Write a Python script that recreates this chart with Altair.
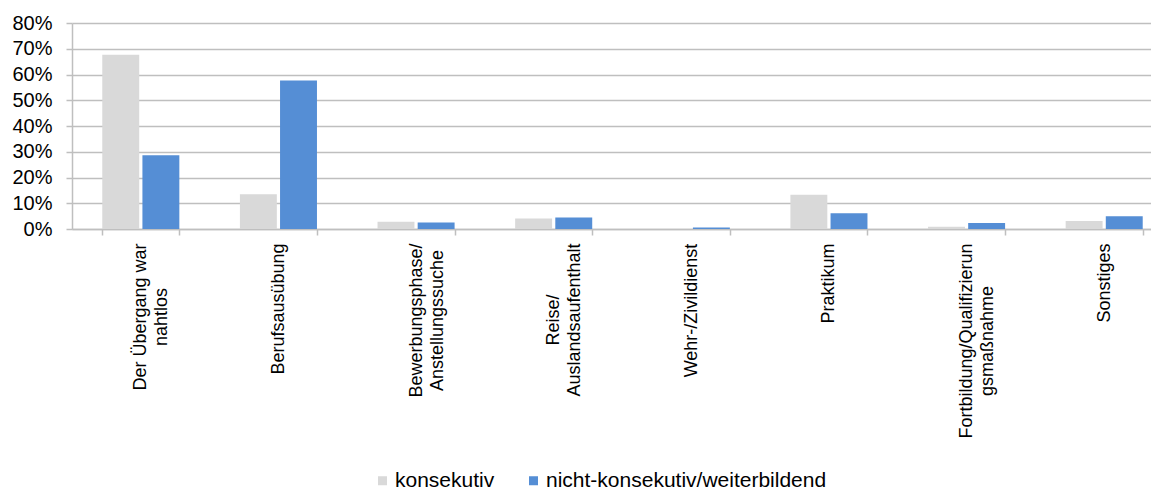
import json
import altair as alt
import pandas as pd

categories = [
    "Der Übergang war\nnahtlos",
    "Berufsausübung",
    "Bewerbungsphase/\nAnstellungssuche",
    "Reise/\nAuslandsaufenthalt",
    "Wehr-/Zivildienst",
    "Praktikum",
    "Fortbildung/Qualifizierun\ngsmaßnahme",
    "Sonstiges",
]
series_names = ["konsekutiv", "nicht-konsekutiv/weiterbildend"]
konsekutiv = [0.677, 0.135, 0.028, 0.041, 0.0, 0.133, 0.009, 0.031]
nicht_konsekutiv = [0.286, 0.577, 0.025, 0.045, 0.006, 0.061, 0.023, 0.050]
colors = ["#d9d9d9", "#558ed5"]
y_ticks = [0, 0.1, 0.2, 0.3, 0.4, 0.5, 0.6, 0.7, 0.8]

rows = []
for c, a, b in zip(categories, konsekutiv, nicht_konsekutiv):
    rows.append({"Kategorie": c, "Gruppe": series_names[0], "Anteil": a})
    rows.append({"Kategorie": c, "Gruppe": series_names[1], "Anteil": b})
df = pd.DataFrame(rows)

FONT = "Liberation Sans"
GRID = "#bfbfbf"
XLAB_SIZE = 18

# Approximate Arial/Liberation Sans advance widths (em), used so that the
# rotated multi-line labels are centred line by line and start just below
# the axis, as in the original.
W = {" ": .278, "/": .278, "-": .333, "A": .667, "B": .667, "D": .722,
     "F": .611, "P": .667, "Q": .778, "R": .722, "S": .667, "W": .944,
     "Z": .611, "Ü": .722, "a": .556, "b": .556, "c": .5, "d": .556,
     "e": .556, "f": .278, "g": .556, "h": .556, "i": .222, "k": .5,
     "l": .222, "m": .833, "n": .556, "o": .556, "p": .556, "r": .333,
     "s": .5, "t": .278, "u": .556, "v": .5, "w": .722, "z": .5,
     "ß": .611, "ü": .556}


def half_len(label):
    return max(sum(W.get(ch, .556) for ch in ln) for ln in label.split("\n")) * XLAB_SIZE / 2


pad_conditions = [
    {"test": "datum.value === " + json.dumps(c), "value": round(8 + half_len(c), 1)}
    for c in categories
]

chart = (
    alt.Chart(df)
    .mark_bar()
    .encode(
        x=alt.X(
            "Kategorie:N",
            sort=categories,
            scale=alt.Scale(paddingInner=0.44, paddingOuter=0.22, range=[0, 1101]),
            axis=alt.Axis(
                title=None,
                labelAngle=-90,
                labelAlign="center",
                labelBaseline="middle",
                labelFontSize=XLAB_SIZE,
                labelLineHeight=21,
                labelFont=FONT,
                labelColor="#000000",
                labelExpr="datum.value ? split(datum.value, '\\n') : ''",
                labelLimit=0,
                labelPadding={"condition": pad_conditions, "value": 8},
                tickBand="extent",
                tickSize=6,
                tickColor=GRID,
                tickWidth=1.5,
                domainColor=GRID,
                domainWidth=1.5,
                grid=False,
            ),
        ),
        xOffset=alt.XOffset(
            "Gruppe:N",
            sort=series_names,
            scale=alt.Scale(paddingInner=0.08, paddingOuter=0),
        ),
        y=alt.Y(
            "Anteil:Q",
            scale=alt.Scale(domain=[0, 0.8], nice=False),
            axis=alt.Axis(
                title=None,
                values=y_ticks,
                format=".0%",
                labelFontSize=20,
                labelFont=FONT,
                labelColor="#000000",
                labelPadding=14,
                tickSize=6,
                tickColor=GRID,
                tickWidth=1.5,
                domainColor=GRID,
                domainWidth=1.5,
                grid=True,
                gridColor=GRID,
                gridWidth=1.5,
            ),
        ),
        color=alt.Color(
            "Gruppe:N",
            sort=series_names,
            scale=alt.Scale(domain=series_names, range=colors),
            legend=alt.Legend(
                title=None,
                orient="none",
                direction="horizontal",
                legendX=300,
                legendY=447,
                symbolType="square",
                symbolSize=81,
                symbolStrokeWidth=0,
                labelFontSize=21,
                labelFont=FONT,
                labelColor="#000000",
                labelOffset=2,
                labelLimit=0,
                columnPadding=28,
                padding=0,
            ),
        ),
    )
    .properties(
        width=1079,
        height=206,
        padding={"left": 64, "top": 15, "right": 0, "bottom": 262},
        autosize=alt.AutoSizeParams(type="none"),
    )
    .configure_view(stroke=None)
)

chart.save("out.html", embed_options={"renderer": "svg", "actions": False})
